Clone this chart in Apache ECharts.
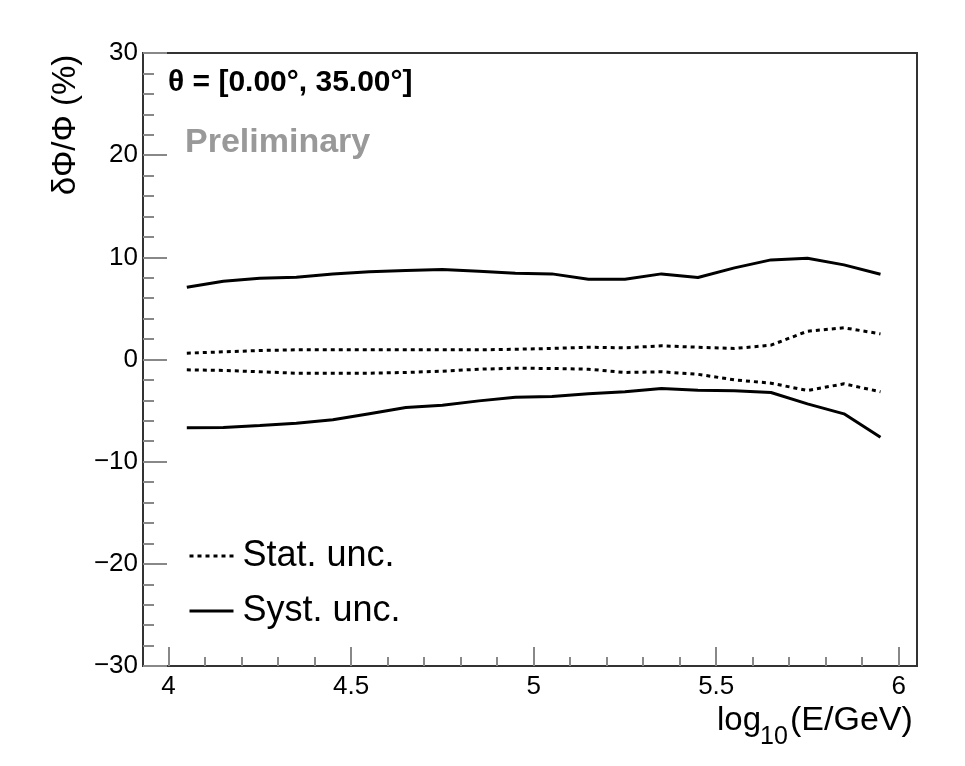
<!DOCTYPE html>
<html>
<head>
<meta charset="utf-8">
<script src="https://cdn.jsdelivr.net/npm/echarts@6/dist/echarts.min.js"></script>
<style>
html, body { margin: 0; padding: 0; background: #fff; }
#chart { width: 965px; height: 766px; }
</style>
</head>
<body>
<div id="chart"></div>
<script>
// log10(E/GeV) 的区间中心
let energy = [4.05, 4.15, 4.25, 4.35, 4.45, 4.55, 4.65, 4.75, 4.85, 4.95,
    5.05, 5.15, 5.25, 5.35, 5.45, 5.55, 5.65, 5.75, 5.85, 5.95];
let statUp = [0.62, 0.75, 0.88, 0.95, 0.95, 0.95, 0.95, 0.95, 0.95, 1.0,
    1.08, 1.2, 1.14, 1.34, 1.2, 1.08, 1.4, 2.77, 3.1, 2.51];
let statLow = [-1.01, -1.07, -1.2, -1.34, -1.34, -1.34, -1.27, -1.14, -0.95, -0.85,
    -0.88, -0.95, -1.27, -1.2, -1.45, -1.99, -2.32, -3.03, -2.38, -3.16];
let systUp = [7.07, 7.66, 7.96, 8.05, 8.38, 8.58, 8.7, 8.8, 8.64, 8.45,
    8.38, 7.86, 7.86, 8.38, 8.02, 8.97, 9.75, 9.91, 9.26, 8.35];
let systLow = [-6.69, -6.66, -6.46, -6.23, -5.9, -5.3, -4.7, -4.47, -4.05, -3.7,
    -3.62, -3.36, -3.16, -2.84, -3.0, -3.07, -3.23, -4.34, -5.32, -7.6];

let xMajorTicks = [4, 4.5, 5, 5.5, 6];
let xMinorTicks = [4.1, 4.2, 4.3, 4.4, 4.6, 4.7, 4.8, 4.9, 5.1, 5.2, 5.3, 5.4,
    5.6, 5.7, 5.8, 5.9];

function pairs(ys) {
    let out = [];
    for (let i = 0; i < energy.length; i++) {
        out.push([energy[i], ys[i]]);
    }
    return out;
}

let fontName = 'Liberation Sans, Arial, sans-serif';
let dotted = [4, 4];

function lineSeries(name, ys, type) {
    return {
        name: name,
        type: 'line',
        data: pairs(ys),
        symbol: 'none',
        showSymbol: false,
        smooth: false,
        lineStyle: { color: '#000', width: 3, type: type },
        itemStyle: { color: '#000' },
        z: 3
    };
}

let chart = echarts.init(document.getElementById('chart'));
chart.setOption({
    animation: false,
    backgroundColor: '#fff',
    grid: {
        left: 143, right: 48, top: 53, bottom: 100,
        show: true, borderColor: '#333', borderWidth: 2
    },
    legend: {
        data: ['Stat. unc.', 'Syst. unc.'],
        orient: 'vertical',
        left: 188,
        top: 536,
        padding: 0,
        itemWidth: 44,
        itemHeight: 14,
        itemGap: 15,
        selectedMode: false,
        itemStyle: { opacity: 0 },
        lineStyle: { width: 3 },
        textStyle: {
            fontFamily: fontName, fontSize: 36, color: '#000',
            lineHeight: 40, padding: [0, 0, 0, 4]
        }
    },
    xAxis: [
        {
            type: 'value', min: 3.93, max: 6.05,
            axisLine: { show: true, onZero: false, lineStyle: { color: '#333', width: 2 } },
            axisTick: {
                show: true, inside: true, length: 19, customValues: xMajorTicks,
                lineStyle: { color: '#888', width: 2 }
            },
            axisLabel: {
                customValues: xMajorTicks, margin: 8,
                fontFamily: fontName, fontSize: 26, color: '#000',
                formatter: function (v) { return String(v); }
            },
            splitLine: { show: false }
        },
        {
            type: 'value', min: 3.93, max: 6.05, position: 'bottom',
            axisLine: { show: false, onZero: false },
            axisTick: {
                show: true, inside: true, length: 9, customValues: xMinorTicks,
                lineStyle: { color: '#888', width: 2 }
            },
            axisLabel: { show: false },
            splitLine: { show: false }
        }
    ],
    yAxis: {
        type: 'value', min: -30, max: 30, interval: 10,
        axisLine: { show: true, onZero: false, lineStyle: { color: '#333', width: 2 } },
        axisTick: { show: true, inside: true, length: 24, lineStyle: { color: '#888', width: 2 } },
        minorTick: { show: true, splitNumber: 5, length: 11, lineStyle: { color: '#888', width: 2 } },
        axisLabel: {
            margin: 5, fontFamily: fontName, fontSize: 26, color: '#000',
            formatter: function (v) { return String(v).replace('-', '\u2212'); }
        },
        splitLine: { show: false }
    },
    series: [
        lineSeries('Stat. unc.', statUp, dotted),
        lineSeries('Stat. unc.', statLow, dotted),
        lineSeries('Syst. unc.', systUp, 'solid'),
        lineSeries('Syst. unc.', systLow, 'solid')
    ],
    graphic: [
        {
            type: 'text', x: 168, y: 83,
            style: {
                text: '\u03b8 = [0.00\u00b0, 35.00\u00b0]', fill: '#000',
                font: 'bold 30px ' + fontName, verticalAlign: 'middle'
            }
        },
        {
            type: 'text', x: 185, y: 143,
            style: {
                text: 'Preliminary', fill: '#999',
                font: 'bold 34px ' + fontName, verticalAlign: 'middle'
            }
        },
        {
            type: 'text', x: 66, y: 125, rotation: Math.PI / 2,
            style: {
                text: '\u03b4\u03a6/\u03a6 (%)', fill: '#000',
                font: '33px ' + fontName, align: 'center', verticalAlign: 'middle'
            }
        },
        {
            type: 'text', x: 717, y: 721,
            style: { text: 'log', fill: '#000', font: '33px ' + fontName, verticalAlign: 'middle' }
        },
        {
            type: 'text', x: 760, y: 737,
            style: { text: '10', fill: '#000', font: '25px ' + fontName, verticalAlign: 'middle' }
        },
        {
            type: 'text', x: 790, y: 721,
            style: { text: '(E/GeV)', fill: '#000', font: '34px ' + fontName, verticalAlign: 'middle' }
        }
    ]
});
</script>
</body>
</html>
